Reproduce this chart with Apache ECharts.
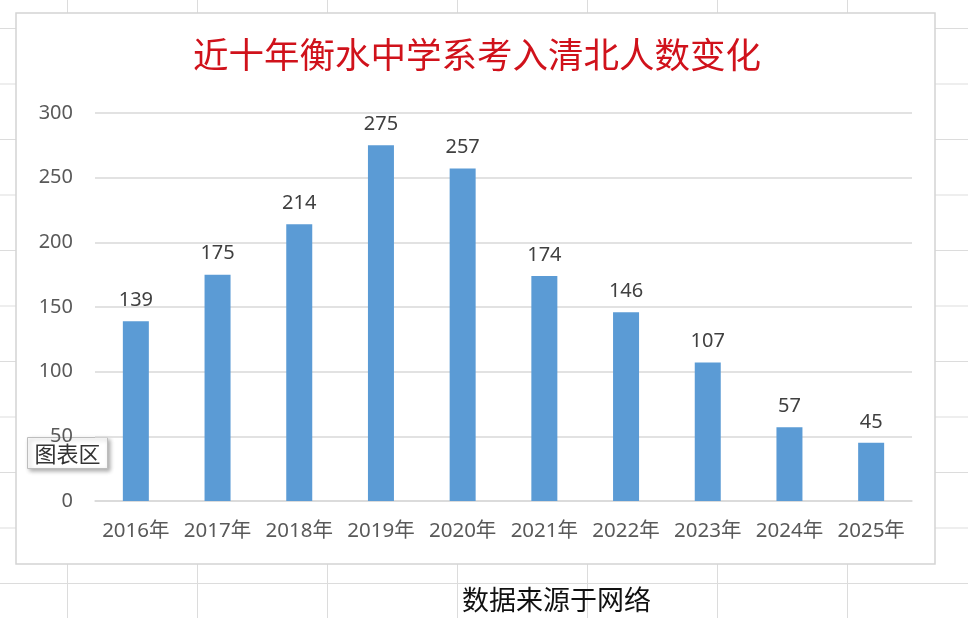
<!DOCTYPE html>
<html lang="zh-CN">
<head>
    <meta charset="UTF-8">
    <title>近十年衡水中学系考入清北人数变化</title>
    <script src="https://cdn.jsdelivr.net/npm/echarts@6/dist/echarts.min.js"></script>
    <style>
        html, body { margin: 0; padding: 0; }
        body {
            width: 968px; height: 618px; overflow: hidden;
            background-color: #fff;
            /* 表格底纹 */
            background-image:
                linear-gradient(to right, #dcdcdc 1px, transparent 1px),
                linear-gradient(to bottom, #dcdcdc 1px, transparent 1px);
            background-size: 130px 55.5px;
            background-position: 67px 28px;
        }
        #chart { position: absolute; left: 0; top: 0; width: 968px; height: 618px; }
    </style>
</head>
<body>
<div id="chart"></div>
<script>
    // 数据
    var years = ['2016年', '2017年', '2018年', '2019年', '2020年', '2021年', '2022年', '2023年', '2024年', '2025年'];
    var counts = [139, 175, 214, 275, 257, 174, 146, 107, 57, 45];
    var yTicks = [0, 50, 100, 150, 200, 250, 300];

    var myChart = echarts.init(document.getElementById('chart'));
    var option = {
        backgroundColor: 'transparent',
        animation: false,
        title: {
            text: '近十年衡水中学系考入清北人数变化',
            left: 188,
            top: 32,
            textStyle: {
                color: '#d0121b',
                fontSize: 35.5,
                fontWeight: 'normal',
                fontFamily: 'Noto Sans CJK SC'
            }
        },
        graphic: [
            {
                // 图表区边框
                type: 'rect',
                z: -10,
                shape: { x: 16, y: 13, width: 919, height: 551 },
                style: { fill: '#fff', stroke: '#d4d4d4', lineWidth: 1.5 }
            },
            {
                type: 'group',
                left: 27,
                top: 437,
                z: 100,
                children: [
                    {
                        type: 'rect',
                        shape: { x: 0, y: 0, width: 80, height: 31 },
                        style: {
                            fill: '#fff', stroke: '#bdbdbd', lineWidth: 1,
                            shadowBlur: 4, shadowOffsetX: 2, shadowOffsetY: 2,
                            shadowColor: 'rgba(0,0,0,0.3)'
                        }
                    },
                    {
                        type: 'text',
                        x: 40, y: 16,
                        style: {
                            text: '图表区', fill: '#333', fontSize: 22,
                            fontFamily: 'Noto Sans CJK SC',
                            align: 'center', verticalAlign: 'middle'
                        }
                    }
                ]
            },
            {
                type: 'text',
                left: 462,
                top: 586,
                style: {
                    text: '数据来源于网络', fill: '#111', fontSize: 27,
                    fontFamily: 'Noto Sans CJK SC'
                }
            }
        ],
        grid: {
            left: 95,
            right: 56,
            top: 113,
            bottom: 117
        },
        xAxis: {
            type: 'category',
            data: years,
            axisLine: { lineStyle: { color: '#d9d9d9', width: 1.5 } },
            axisTick: { show: false },
            axisLabel: {
                interval: 0,
                hideOverlap: false,
                color: '#595959',
                fontSize: 20.5,
                margin: 20,
                fontFamily: 'Noto Sans, Noto Sans CJK SC'
            }
        },
        yAxis: {
            type: 'value',
            min: yTicks[0],
            max: yTicks[yTicks.length - 1],
            interval: 50,
            axisLine: { show: false },
            axisTick: { show: false },
            splitLine: { lineStyle: { color: '#d9d9d9', width: 1.5 } },
            axisLabel: {
                color: '#595959',
                fontSize: 20,
                margin: 22,
                fontFamily: 'Noto Sans, Noto Sans CJK SC'
            }
        },
        series: [
            {
                name: '人数',
                type: 'bar',
                data: counts,
                barWidth: 26,
                itemStyle: { color: '#5b9bd5' },
                label: {
                    show: true,
                    position: 'top',
                    distance: 11,
                    color: '#404040',
                    fontSize: 20,
                    fontFamily: 'Noto Sans, Noto Sans CJK SC'
                }
            }
        ]
    };
    myChart.setOption(option);
</script>
</body>
</html>
